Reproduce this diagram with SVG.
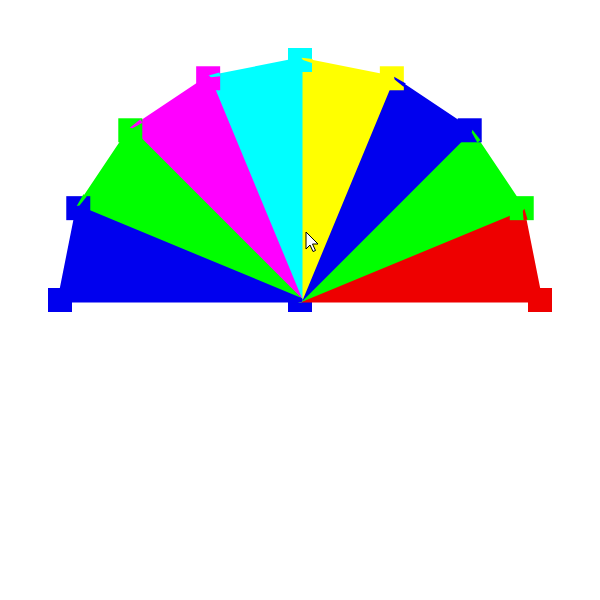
<svg xmlns="http://www.w3.org/2000/svg" width="600" height="600" viewBox="0 0 600 600">
<style>
.tri{stroke-width:5;stroke-linejoin:round}
.blue{fill:#0000ee;stroke:#0000ee}
.green{fill:#00ff00;stroke:#00ff00}
.magenta{fill:#ff00ff;stroke:#ff00ff}
.cyan{fill:#00ffff;stroke:#00ffff}
.yellow{fill:#ffff00;stroke:#ffff00}
.red{fill:#ee0000;stroke:#ee0000}
.sq{stroke:none}
.spike{stroke:none}
</style>
<defs>
<rect id="sq" x="-12" y="-12" width="24" height="24"/>
<polygon id="spikeL" points="1,-2.5 14.43,-3.5 14.43,0.5 3,-0.5"/>
<polygon id="spikeS" points="1,-2.5 12.24,-3.5 12.24,0.5 3,-0.5"/>
</defs>
<rect width="600" height="600" fill="#ffffff"/>
<g id="center-handle"><use href="#sq" x="300" y="300" class="blue sq"/></g>
<g id="wedges">
<polygon id="t8" class="tri red" points="300,300 521.73,208.16 540,300"/>
<polygon id="t7" class="tri green" points="300,300 469.71,130.29 521.73,208.16"/>
<polygon id="t6" class="tri blue" points="300,300 391.84,78.27 469.71,130.29"/>
<polygon id="t5" class="tri yellow" points="300,300 300,60 391.84,78.27"/>
<polygon id="t4" class="tri cyan" points="300,300 208.16,78.27 300,60"/>
<polygon id="t3" class="tri magenta" points="300,300 130.29,130.29 208.16,78.27"/>
<polygon id="t2" class="tri green" points="300,300 78.27,208.16 130.29,130.29"/>
<polygon id="t1" class="tri blue" points="300,300 60,300 78.27,208.16"/>
</g>
<g id="handles">
<use id="h0" href="#sq" x="60" y="300" class="blue sq"/>
<use id="h1" href="#sq" x="78.27" y="208.16" class="blue sq"/>
<use id="h2" href="#sq" x="130.29" y="130.29" class="green sq"/>
<use id="h3" href="#sq" x="208.16" y="78.27" class="magenta sq"/>
<use id="h4" href="#sq" x="300" y="60" class="cyan sq"/>
<use id="h5" href="#sq" x="391.84" y="78.27" class="yellow sq"/>
<use id="h6" href="#sq" x="469.71" y="130.29" class="blue sq"/>
<use id="h7" href="#sq" x="521.73" y="208.16" class="green sq"/>
<use id="h8" href="#sq" x="540" y="300" class="red sq"/>
</g>
<g id="spikes">
<use href="#spikeL" class="green spike" transform="translate(78.27,208.16) rotate(-56.25)"/>
<use href="#spikeL" class="magenta spike" transform="translate(130.29,130.29) rotate(-33.75)"/>
<use href="#spikeS" class="cyan spike" transform="translate(208.16,78.27) rotate(-11.25)"/>
<use href="#spikeS" class="yellow spike" transform="translate(300,60) rotate(11.25)"/>
<use href="#spikeL" class="blue spike" transform="translate(391.84,78.27) rotate(33.75)"/>
<use href="#spikeL" class="green spike" transform="translate(469.71,130.29) rotate(56.25)"/>
<use href="#spikeS" class="red spike" transform="translate(521.73,208.16) rotate(78.75)"/>
</g>
<g id="cursor" transform="translate(306,232)">
<polygon points="0,0 0,17 4,13 7,19.5 9.5,18.5 6.5,12 12,12" fill="#ffffff" stroke="#000000" stroke-width="1" stroke-linejoin="round"/>
</g>
</svg>
